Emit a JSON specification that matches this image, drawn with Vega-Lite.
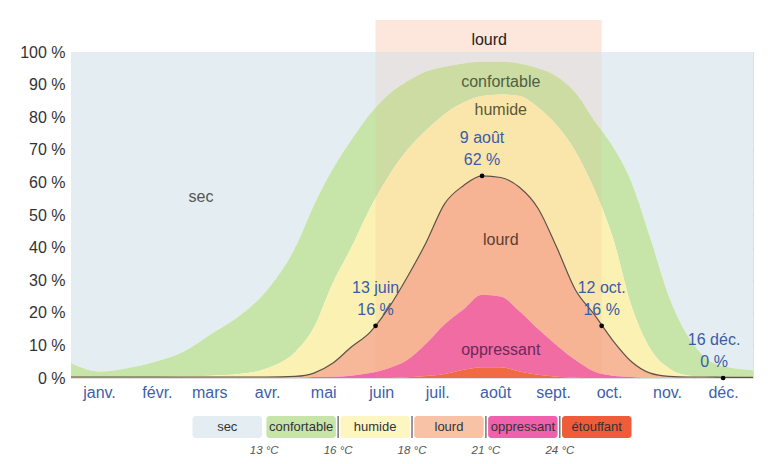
{
  "$schema": "https://vega.github.io/schema/vega-lite/v6.json",
  "background": "white",
  "padding": {"left": 19, "top": 20, "right": 0, "bottom": 0},
  "bounds": "flush",
  "center": true,
  "spacing": 38,
  "resolve": {"scale": {"x": "independent", "y": "independent", "color": "independent"}},
  "config": {
    "view": {"stroke": null},
    "font": "Liberation Sans",
    "axis": {"domain": false, "ticks": false, "grid": true, "gridColor": "#000000", "gridOpacity": 0.12, "labelFontSize": 16, "zindex": 1, "labelFlush": false, "labelOverlap": false, "labelBound": false}
  },
  "datasets": {
    "hum": [
      {"d": 0, "sec": 95.5, "confortable": 4.2, "humide": 0, "lourd": 0.3, "oppressant": 0, "etouffant": 0},
      {"d": 15, "sec": 98, "confortable": 1.7, "humide": 0, "lourd": 0.3, "oppressant": 0, "etouffant": 0},
      {"d": 30, "sec": 97, "confortable": 2.7, "humide": 0, "lourd": 0.3, "oppressant": 0, "etouffant": 0},
      {"d": 45, "sec": 95, "confortable": 4.7, "humide": 0, "lourd": 0.3, "oppressant": 0, "etouffant": 0},
      {"d": 60, "sec": 92, "confortable": 7.5, "humide": 0.2, "lourd": 0.3, "oppressant": 0, "etouffant": 0},
      {"d": 75, "sec": 86.5, "confortable": 12.8, "humide": 0.4, "lourd": 0.3, "oppressant": 0, "etouffant": 0},
      {"d": 90, "sec": 81, "confortable": 17.8, "humide": 0.9, "lourd": 0.3, "oppressant": 0, "etouffant": 0},
      {"d": 105, "sec": 73, "confortable": 24, "humide": 2.7, "lourd": 0.3, "oppressant": 0, "etouffant": 0},
      {"d": 120, "sec": 60, "confortable": 32, "humide": 7.5, "lourd": 0.5, "oppressant": 0, "etouffant": 0},
      {"d": 130, "sec": 47, "confortable": 37.5, "humide": 14, "lourd": 1.2, "oppressant": 0.3, "etouffant": 0},
      {"d": 140, "sec": 36, "confortable": 35, "humide": 24.5, "lourd": 4.1, "oppressant": 0.4, "etouffant": 0},
      {"d": 150, "sec": 27, "confortable": 33, "humide": 30.5, "lourd": 8.8, "oppressant": 0.7, "etouffant": 0},
      {"d": 160, "sec": 19, "confortable": 29, "humide": 38, "lourd": 12.5, "oppressant": 1.5, "etouffant": 0},
      {"d": 170, "sec": 13, "confortable": 25, "humide": 40.5, "lourd": 18.5, "oppressant": 3, "etouffant": 0},
      {"d": 180, "sec": 9, "confortable": 21, "humide": 39, "lourd": 25.5, "oppressant": 5.3, "etouffant": 0.2},
      {"d": 190, "sec": 6, "confortable": 18, "humide": 34.5, "lourd": 31, "oppressant": 9.9, "etouffant": 0.6},
      {"d": 200, "sec": 4.5, "confortable": 14.5, "humide": 27.5, "lourd": 37, "oppressant": 15.3, "etouffant": 1.2},
      {"d": 210, "sec": 3.5, "confortable": 12, "humide": 25.5, "lourd": 38, "oppressant": 18.5, "etouffant": 2.5},
      {"d": 220, "sec": 3, "confortable": 10.5, "humide": 24.5, "lourd": 36.5, "oppressant": 22.2, "etouffant": 3.3},
      {"d": 230, "sec": 3, "confortable": 10, "humide": 25.5, "lourd": 36.5, "oppressant": 21.7, "etouffant": 3.3},
      {"d": 240, "sec": 3.5, "confortable": 10, "humide": 28, "lourd": 38, "oppressant": 18.5, "etouffant": 2},
      {"d": 250, "sec": 5, "confortable": 12, "humide": 31, "lourd": 37, "oppressant": 14, "etouffant": 1},
      {"d": 260, "sec": 7.5, "confortable": 15, "humide": 37.5, "lourd": 30, "oppressant": 9.6, "etouffant": 0.4},
      {"d": 270, "sec": 12.5, "confortable": 18, "humide": 42.5, "lourd": 21.5, "oppressant": 5.4, "etouffant": 0.1},
      {"d": 280, "sec": 21, "confortable": 21, "humide": 38.5, "lourd": 17.5, "oppressant": 2, "etouffant": 0},
      {"d": 290, "sec": 29, "confortable": 28, "humide": 31.5, "lourd": 10.8, "oppressant": 0.7, "etouffant": 0},
      {"d": 300, "sec": 40, "confortable": 38, "humide": 17, "lourd": 4.7, "oppressant": 0.3, "etouffant": 0},
      {"d": 310, "sec": 57, "confortable": 34, "humide": 7.5, "lourd": 1.5, "oppressant": 0, "etouffant": 0},
      {"d": 320, "sec": 75, "confortable": 22, "humide": 2.5, "lourd": 0.5, "oppressant": 0, "etouffant": 0},
      {"d": 330, "sec": 87, "confortable": 12.2, "humide": 0.5, "lourd": 0.3, "oppressant": 0, "etouffant": 0},
      {"d": 340, "sec": 94, "confortable": 5.6, "humide": 0.1, "lourd": 0.3, "oppressant": 0, "etouffant": 0},
      {"d": 350, "sec": 96.5, "confortable": 3.3, "humide": 0, "lourd": 0.2, "oppressant": 0, "etouffant": 0},
      {"d": 365, "sec": 97.6, "confortable": 2.2, "humide": 0, "lourd": 0.2, "oppressant": 0, "etouffant": 0}
    ],
    "cats": [
      {"cat": "etouffant", "rank": 0, "label": "étouffant", "temp": "24 °C", "sep": true},
      {"cat": "oppressant", "rank": 1, "label": "oppressant", "temp": "21 °C", "sep": true},
      {"cat": "lourd", "rank": 2, "label": "lourd", "temp": "18 °C", "sep": true},
      {"cat": "humide", "rank": 3, "label": "humide", "temp": "16 °C", "sep": true},
      {"cat": "confortable", "rank": 4, "label": "confortable", "temp": "13 °C", "sep": false},
      {"cat": "sec", "rank": 5, "label": "sec", "temp": "", "sep": false}
    ],
    "ann": [
      {"d": 163, "v": 16, "t": "13 juin\n16 %"},
      {"d": 220, "v": 62, "t": "9 août\n62 %"},
      {"d": 284, "v": 16, "t": "12 oct.\n16 %"},
      {"d": 349, "v": 0, "t": "16 déc.\n0 %"}
    ],
    "labs": [
      {"d": 69.6, "v": 55.5, "t": "sec", "c": "sec"},
      {"d": 230, "v": 90.8, "t": "confortable", "c": "confortable"},
      {"d": 230, "v": 82.2, "t": "humide", "c": "humide"},
      {"d": 230, "v": 42.3, "t": "lourd", "c": "lourd"},
      {"d": 230, "v": 8.5, "t": "oppressant", "c": "oppressant"},
      {"d": 223.8, "v": 103.7, "t": "lourd", "c": "band"}
    ],
    "band": [
      {"s": 163, "e": 284, "lo": 0, "mid": 100, "hi": 109.8}
    ]
  },
  "vconcat": [
    {
      "width": 682,
      "height": 326,
      "resolve": {"scale": {"color": "independent"}},
      "layer": [
        {
          "data": {"name": "hum"},
          "transform": [
            {"fold": ["sec", "confortable", "humide", "lourd", "oppressant", "etouffant"], "as": ["cat", "pct"]},
            {"lookup": "cat", "from": {"data": {"name": "cats"}, "key": "cat", "fields": ["rank"]}}
          ],
          "mark": {"type": "area", "interpolate": "monotone"},
          "encoding": {
            "x": {
              "field": "d", "type": "quantitative",
              "scale": {"domain": [0, 365], "nice": false, "zero": false},
              "axis": {
                "title": null,
                "values": [0, 31, 59, 90, 120, 151, 181, 212, 243, 273, 304, 334, 365],
                "tickCount": 20,
                "labelExpr": "['janv.','févr.','mars','avr.','mai','juin','juil.','août','sept.','oct.','nov.','déc.',''][indexof([0,31,59,90,120,151,181,212,243,273,304,334,365], datum.value)]",
                "labelOffset": 28,
                "labelAlign": "center",
                "labelColor": "#3f5fa8",
                "labelPadding": 6
              }
            },
            "y": {
              "field": "pct", "type": "quantitative", "stack": "zero",
              "scale": {"domain": [0, 100], "nice": false},
              "axis": {
                "title": null,
                "values": [0, 10, 20, 30, 40, 50, 60, 70, 80, 90, 100],
                "tickCount": 20,
                "labelOverlap": false,
                "labelExpr": "datum.value + ' %'",
                "labelColor": "#333333",
                "labelPadding": 6
              }
            },
            "color": {
              "field": "cat", "type": "nominal", "legend": null,
              "scale": {
                "domain": ["sec", "confortable", "humide", "lourd", "oppressant", "etouffant"],
                "range": ["#e4edf1", "#c8e5a9", "#fbf1b2", "#f6b898", "#f066a9", "#ef653d"]
              }
            },
            "order": {"field": "rank", "type": "quantitative"}
          }
        },
        {
          "data": {"name": "band"},
          "mark": {"type": "rect", "color": "#f4a07a", "opacity": 0.12},
          "encoding": {
            "x": {"field": "s", "type": "quantitative"},
            "x2": {"field": "e"},
            "y": {"field": "lo", "type": "quantitative"},
            "y2": {"field": "mid"}
          }
        },
        {
          "data": {"name": "band"},
          "mark": {"type": "rect", "color": "#f7a57c", "opacity": 0.28},
          "encoding": {
            "x": {"field": "s", "type": "quantitative"},
            "x2": {"field": "e"},
            "y": {"field": "mid", "type": "quantitative"},
            "y2": {"field": "hi"}
          }
        },
        {
          "data": {"name": "hum"},
          "transform": [
            {"fold": ["lourd", "oppressant", "etouffant"], "as": ["cat", "pct"]},
            {"aggregate": [{"op": "sum", "field": "pct", "as": "muggy"}], "groupby": ["d"]}
          ],
          "mark": {"type": "line", "interpolate": "monotone", "color": "#5e5248", "strokeWidth": 1.2},
          "encoding": {
            "x": {"field": "d", "type": "quantitative"},
            "y": {"field": "muggy", "type": "quantitative"}
          }
        },
        {
          "data": {"name": "ann"},
          "mark": {"type": "point", "filled": true, "color": "#000000", "size": 22, "opacity": 1},
          "encoding": {
            "x": {"field": "d", "type": "quantitative"},
            "y": {"field": "v", "type": "quantitative"}
          }
        },
        {
          "data": {"name": "ann"},
          "transform": [{"filter": "datum.d < 340"}],
          "mark": {"type": "text", "lineBreak": "\n", "baseline": "bottom", "dy": -30, "fontSize": 16, "lineHeight": 22, "color": "#3a5ca8"},
          "encoding": {
            "x": {"field": "d", "type": "quantitative"},
            "y": {"field": "v", "type": "quantitative"},
            "text": {"field": "t"}
          }
        },
        {
          "data": {"name": "ann"},
          "transform": [{"filter": "datum.d >= 340"}],
          "mark": {"type": "text", "lineBreak": "\n", "baseline": "bottom", "dy": -30, "dx": -9, "fontSize": 16, "lineHeight": 22, "color": "#3a5ca8"},
          "encoding": {
            "x": {"field": "d", "type": "quantitative"},
            "y": {"field": "v", "type": "quantitative"},
            "text": {"field": "t"}
          }
        },
        {
          "data": {"name": "labs"},
          "mark": {"type": "text", "fontSize": 16},
          "encoding": {
            "x": {"field": "d", "type": "quantitative"},
            "y": {"field": "v", "type": "quantitative"},
            "text": {"field": "t"},
            "color": {
              "field": "c", "type": "nominal", "legend": null,
              "scale": {
                "domain": ["sec", "confortable", "humide", "lourd", "oppressant", "band"],
                "range": ["#555555", "#4c6143", "#5b5838", "#5a3f33", "#6a2a5a", "#222222"]
              }
            }
          }
        }
      ]
    },
    {
      "width": 439,
      "height": 22,
      "data": {"name": "cats"},
      "layer": [
        {
          "mark": {"type": "rect", "cornerRadius": 3},
          "encoding": {
            "x": {"field": "cat", "type": "nominal", "sort": ["sec", "confortable", "humide", "lourd", "oppressant", "etouffant"], "scale": {"paddingInner": 0.06, "paddingOuter": 0}, "axis": null},
            "color": {
              "field": "cat", "type": "nominal", "legend": null,
              "scale": {
                "domain": ["sec", "confortable", "humide", "lourd", "oppressant", "etouffant"],
                "range": ["#e4edf1", "#c8e5a9", "#fdf6c2", "#f8c2a6", "#ef61ad", "#ef5c3a"]
              }
            }
          }
        },
        {
          "mark": {"type": "text", "fontSize": 13, "color": "#333333"},
          "encoding": {
            "x": {"field": "cat", "type": "nominal", "sort": ["sec", "confortable", "humide", "lourd", "oppressant", "etouffant"], "axis": null},
            "text": {"field": "label"}
          }
        },
        {
          "transform": [{"filter": "datum.sep"}],
          "mark": {"type": "rule", "color": "#555555", "strokeWidth": 1.2, "xOffset": -2.2},
          "encoding": {
            "x": {"field": "cat", "type": "nominal", "sort": ["sec", "confortable", "humide", "lourd", "oppressant", "etouffant"], "bandPosition": 0, "axis": null}
          }
        },
        {
          "transform": [{"filter": "datum.temp != ''"}],
          "mark": {"type": "text", "fontSize": 11.5, "fontStyle": "italic", "color": "#555555", "dy": 24, "xOffset": -2.2},
          "encoding": {
            "x": {"field": "cat", "type": "nominal", "sort": ["sec", "confortable", "humide", "lourd", "oppressant", "etouffant"], "bandPosition": 0, "axis": null},
            "text": {"field": "temp"}
          }
        }
      ]
    }
  ]
}
